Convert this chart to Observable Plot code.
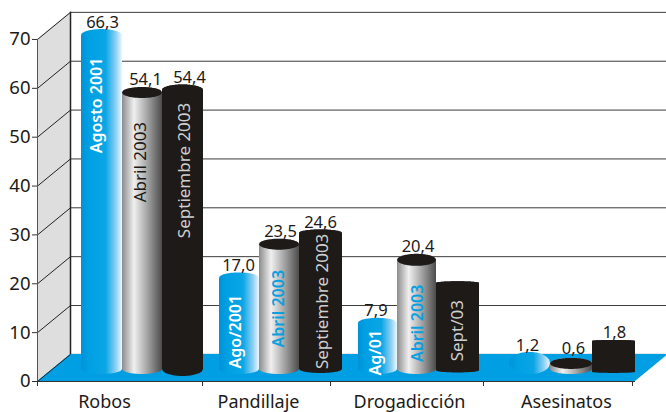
<!DOCTYPE html>
<html><head><meta charset="utf-8">
<style>html,body{margin:0;padding:0;background:#fff}svg{display:block}</style>
<script src="https://cdn.jsdelivr.net/npm/d3@7"></script>
<script src="https://cdn.jsdelivr.net/npm/@observablehq/plot@0.6"></script>
</head><body><div id="chart"></div>
<script>
// ---------- data ----------
const categories = ["Robos","Pandillaje","Drogadicción","Asesinatos"];
const agosto2001 = [66.3,17.0,7.9,1.2];
const abril2003 = [54.1,23.5,20.4,0.6];
const septiembre2003 = [54.4,24.6,15.6,1.8];
const labelsAgosto = ["Agosto 2001","Ago/2001","Ag/01",""];
const labelsAbril = ["Abril 2003","Abril 2003","Abril 2003",""];
const labelsSept = ["Septiembre 2003","Septiembre 2003","Sept/03",""];
const yTicks = [0,10,20,30,40,50,60,70];

// ---------- layout (axis units; x axis is 1:1 with pixels, y by pxPerUnit) ----------
const pxPerUnit = 4.886, depthX = 33, depthY = 5.55, standY = 4.5, baseU = 2.46;
const px = p => p / pxPerUnit;
const ink = "#1d1a18", FONT = "'Noto Sans',sans-serif";
const xEdges = [[81,122,162,203],[219,259,299,342],[358,397,436,479],[509,550,592,635]];
const topNudge = [[0,.45,.66],[-.4,0,1.2],[-.5,-.1,0],[-2,-1.5,1.9]];
const ryTop = [[6,5.5,5.5],[5.5,5.5,3.5],[5,6,1.5],[11,5.5,1]];
const ryBase = [[5,5,7],[5,5,4],[5,5,2],[11,5,1]];
const baseNudge = [[0,0,0],[0,0,0],[0,0,-.3],[1.2,0,-.6]];
const labelXY = [
 [[96,56.5],[140,44.9],[184,43.2]],
 [[235,10.2],[278,14.9],[322,16.4]],
 [[375,5.9],[417,11.9],[457,10.4]]
];
const labelColor = [["#fff",ink,"#cfcfcf"],["#fff","#0a9fe0","#cfcfcf"],["#fff","#0a9fe0","#cfcfcf"]];
const valueLabelX = [[102,145,189],[238,280,320],[375.5,417.5,null],[527,573,614]];
const catLabelX = [104,258,409,566];
const xTickPos = [37,202,330,483,632];
const gradients = ["url(#gBlue)","url(#gGray)",ink];

// ---------- build ----------
const series = [agosto2001,abril2003,septiembre2003];
const seriesLabels = [labelsAgosto,labelsAbril,labelsSept];
const comma = v => v.toFixed(1).replace(".",",");
const samples = d3.range(0,41).map(i=>i/40);
function cyl(x0,x1,top,base,rt,rb){
  return samples.map(t=>{const h=Math.sqrt(Math.max(0,1-(2*t-1)**2));
    return {x:x0+(x1-x0)*t,y1:base-px(rb)*h,y2:top+px(rt)*h};});
}
function cap(x0,x1,top,r){
  return samples.map(t=>{const h=Math.sqrt(Math.max(0,1-(2*t-1)**2));
    return {x:x0+(x1-x0)*t,y1:top-px(r)*h,y2:top+px(r)*h};});
}
const area = (d,fill)=>Plot.areaY(d,{x:"x",y1:"y1",y2:"y2",fill,curve:"linear"});

const marks = [];
// walls, grid, floor
marks.push(area([{x:37,y1:0,y2:70},{x:37+depthX,y1:depthY,y2:70+depthY}],"#dedede"));
marks.push(Plot.ruleY(yTicks,{y:d=>d+depthY,x1:37+depthX,x2:666,stroke:"#3c3c3c",strokeWidth:1}));
marks.push(area([{x:37,y1:0,y2:0},{x:37+depthX,y1:0,y2:depthY},{x:635,y1:0,y2:depthY},{x:666,y1:5.2,y2:depthY}],"#009fe3"));
marks.push(Plot.link(yTicks,{x1:37,x2:37+depthX,y1:d=>d,y2:d=>d+depthY,stroke:"#222",strokeWidth:1}));
marks.push(Plot.ruleX([37+depthX],{y1:depthY,y2:70+depthY,stroke:"#222",strokeWidth:1.5}));
marks.push(Plot.ruleX([37],{y1:0,y2:70,stroke:"#555",strokeWidth:1}));
marks.push(Plot.ruleY([0],{x1:37,x2:635,stroke:"#333",strokeWidth:1}));
marks.push(Plot.axisY({ticks:yTicks,anchor:"left",tickSize:5,tickPadding:2,label:null,stroke:"#333",fill:ink,fontSize:18.5,fontFamily:FONT}));
marks.push(Plot.axisX({ticks:xTickPos,anchor:"bottom",tickSize:5,tickFormat:()=>"",label:null,stroke:"#333"}));
// bars
categories.forEach((c,ci)=>series.forEach((vals,si)=>{
  const top=vals[ci]+standY+topNudge[ci][si], base=baseU+baseNudge[ci][si];
  const x0=xEdges[ci][si], x1=xEdges[ci][si+1];
  marks.push(area(cyl(x0,x1,top,base,ryTop[ci][si],ryBase[ci][si]),gradients[si]));
  if(si>0) marks.push(area(cap(x0,x1,top,ryTop[ci][si]),ink));
}));
// labels inside bars
const inside=[];
labelXY.forEach((row,ci)=>row.forEach((xy,si)=>inside.push({x:xy[0],y:xy[1],t:seriesLabels[si][ci],c:labelColor[ci][si],b:si==0||(si==1&&ci>0)})));
marks.push(Plot.text(inside.filter(d=>!d.b),{x:"x",y:"y",text:"t",fill:"c",rotate:-90,fontSize:17,fontFamily:FONT}));
marks.push(Plot.text(inside.filter(d=>d.b),{x:"x",y:"y",text:"t",fill:"c",fontWeight:600,rotate:-90,fontSize:16,fontFamily:FONT}));
// printed values
const printed=[];
categories.forEach((c,ci)=>series.forEach((vals,si)=>{
  const lx=valueLabelX[ci][si]; if(lx==null) return;
  const top=vals[ci]+standY+topNudge[ci][si];
  printed.push({x:lx,y:top+px(ci==3&&si<2?(si==0?12:10):ryTop[ci][si]+2),t:comma(vals[ci])});
}));
marks.push(Plot.text(printed,{x:"x",y:"y",text:"t",lineAnchor:"bottom",fill:ink,fontSize:16.5,fontFamily:FONT}));
marks.push(Plot.text(categories,{x:(d,i)=>catLabelX[i],y:()=>0,text:d=>d,dy:20.5,fill:ink,fontSize:18,fontFamily:FONT}));

const chart = Plot.plot({width:666,height:412,marginLeft:37,marginRight:0,marginTop:0,marginBottom:31,
  style:{background:"#fff",overflow:"visible"},
  x:{domain:[37,666],axis:null},y:{domain:[0,381/pxPerUnit],axis:null},marks});

// shading definitions for cylinders
const defs = `<defs>
<linearGradient id="gBlue"><stop offset="0" stop-color="#0092d8"/><stop offset=".2" stop-color="#00a0e3"/><stop offset=".6" stop-color="#0aa6e6"/><stop offset=".85" stop-color="#8ed0f4"/><stop offset="1" stop-color="#eef8fe"/></linearGradient>
<linearGradient id="gGray"><stop offset="0" stop-color="#8c8c8c"/><stop offset=".3" stop-color="#f0f0f0"/><stop offset=".65" stop-color="#a0a0a0"/><stop offset="1" stop-color="#4c4c4c"/></linearGradient>
</defs>`;
chart.insertAdjacentHTML("afterbegin",defs);
document.getElementById("chart").append(chart);
</script></body></html>
